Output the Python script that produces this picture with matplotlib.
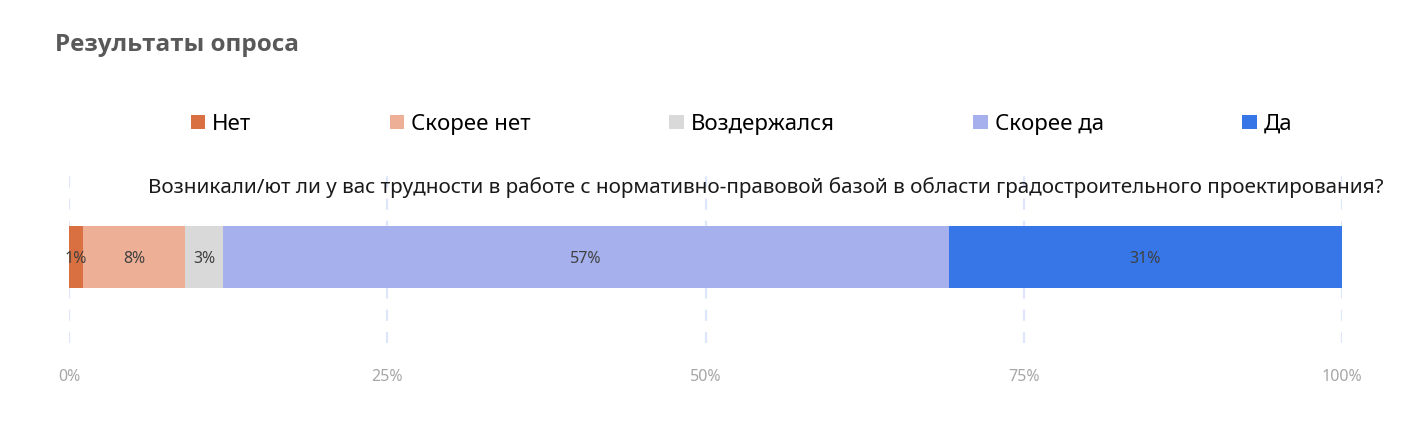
import matplotlib.pyplot as plt
import numpy as np

plt.rcParams['font.family'] = ['Noto Sans', 'DejaVu Sans']

# %%
title = 'Результаты опроса'
question = 'Возникали/ют ли у вас трудности в работе с нормативно-правовой базой в области градостроительного проектирования?'
categories = ['Нет', 'Скорее нет', 'Воздержался', 'Скорее да', 'Да']
shares = [1.1, 8.0, 3.0, 57.0, 30.9]
colors = ['#D97041', '#EDB096', '#D9D9D9', '#A5B0EC', '#3776E6']
ticks = [0, 25, 50, 75, 100]
tick_labels = ['0%', '25%', '50%', '75%', '100%']

# %%
fig = plt.figure(figsize=(14.12, 4.44), dpi=100)
ax = fig.add_axes([0.0489, 0.2275, 0.9015, 0.4005])

left = 0
for cat, val, c in zip(categories, shares, colors):
    bars = ax.barh(0, val, left=left, height=0.7, color=c, label=cat)
    ax.text(left + val / 2, 0, f'{val:.0f}%', ha='center', va='center_baseline',
            fontsize=11.5, color='#404040')
    left += val

ax.set_xlim(0, 100)
ax.set_ylim(-0.97, 1.03)
ax.set_xticks(ticks)
ax.set_xticklabels(tick_labels)
ax.set_yticks([])
ax.tick_params(axis='x', length=0, pad=19, labelsize=11.5, labelcolor='#A6A6A6')
for s in ax.spines.values():
    s.set_visible(False)
ax.grid(axis='x', color='#DDE6FA', linestyle=(0, (5, 5)), lw=1.6)
ax.set_axisbelow(True)

fig.text(0.5425, 0.577, question, ha='center', va='center', fontsize=14.9, color='#1A1A1A')
fig.text(0.039, 0.898, title, ha='left', va='center', fontsize=17.5, fontweight='bold',
         family=['Open Sans', 'DejaVu Sans'], color='#595959')

fig.legend(loc='center', bbox_to_anchor=(0.525, 0.72), ncol=5, frameon=False,
           fontsize=16, handlelength=0.65, handleheight=0.65, handletextpad=0.3,
           columnspacing=6.25)

fig.savefig('out.png', dpi=100)
